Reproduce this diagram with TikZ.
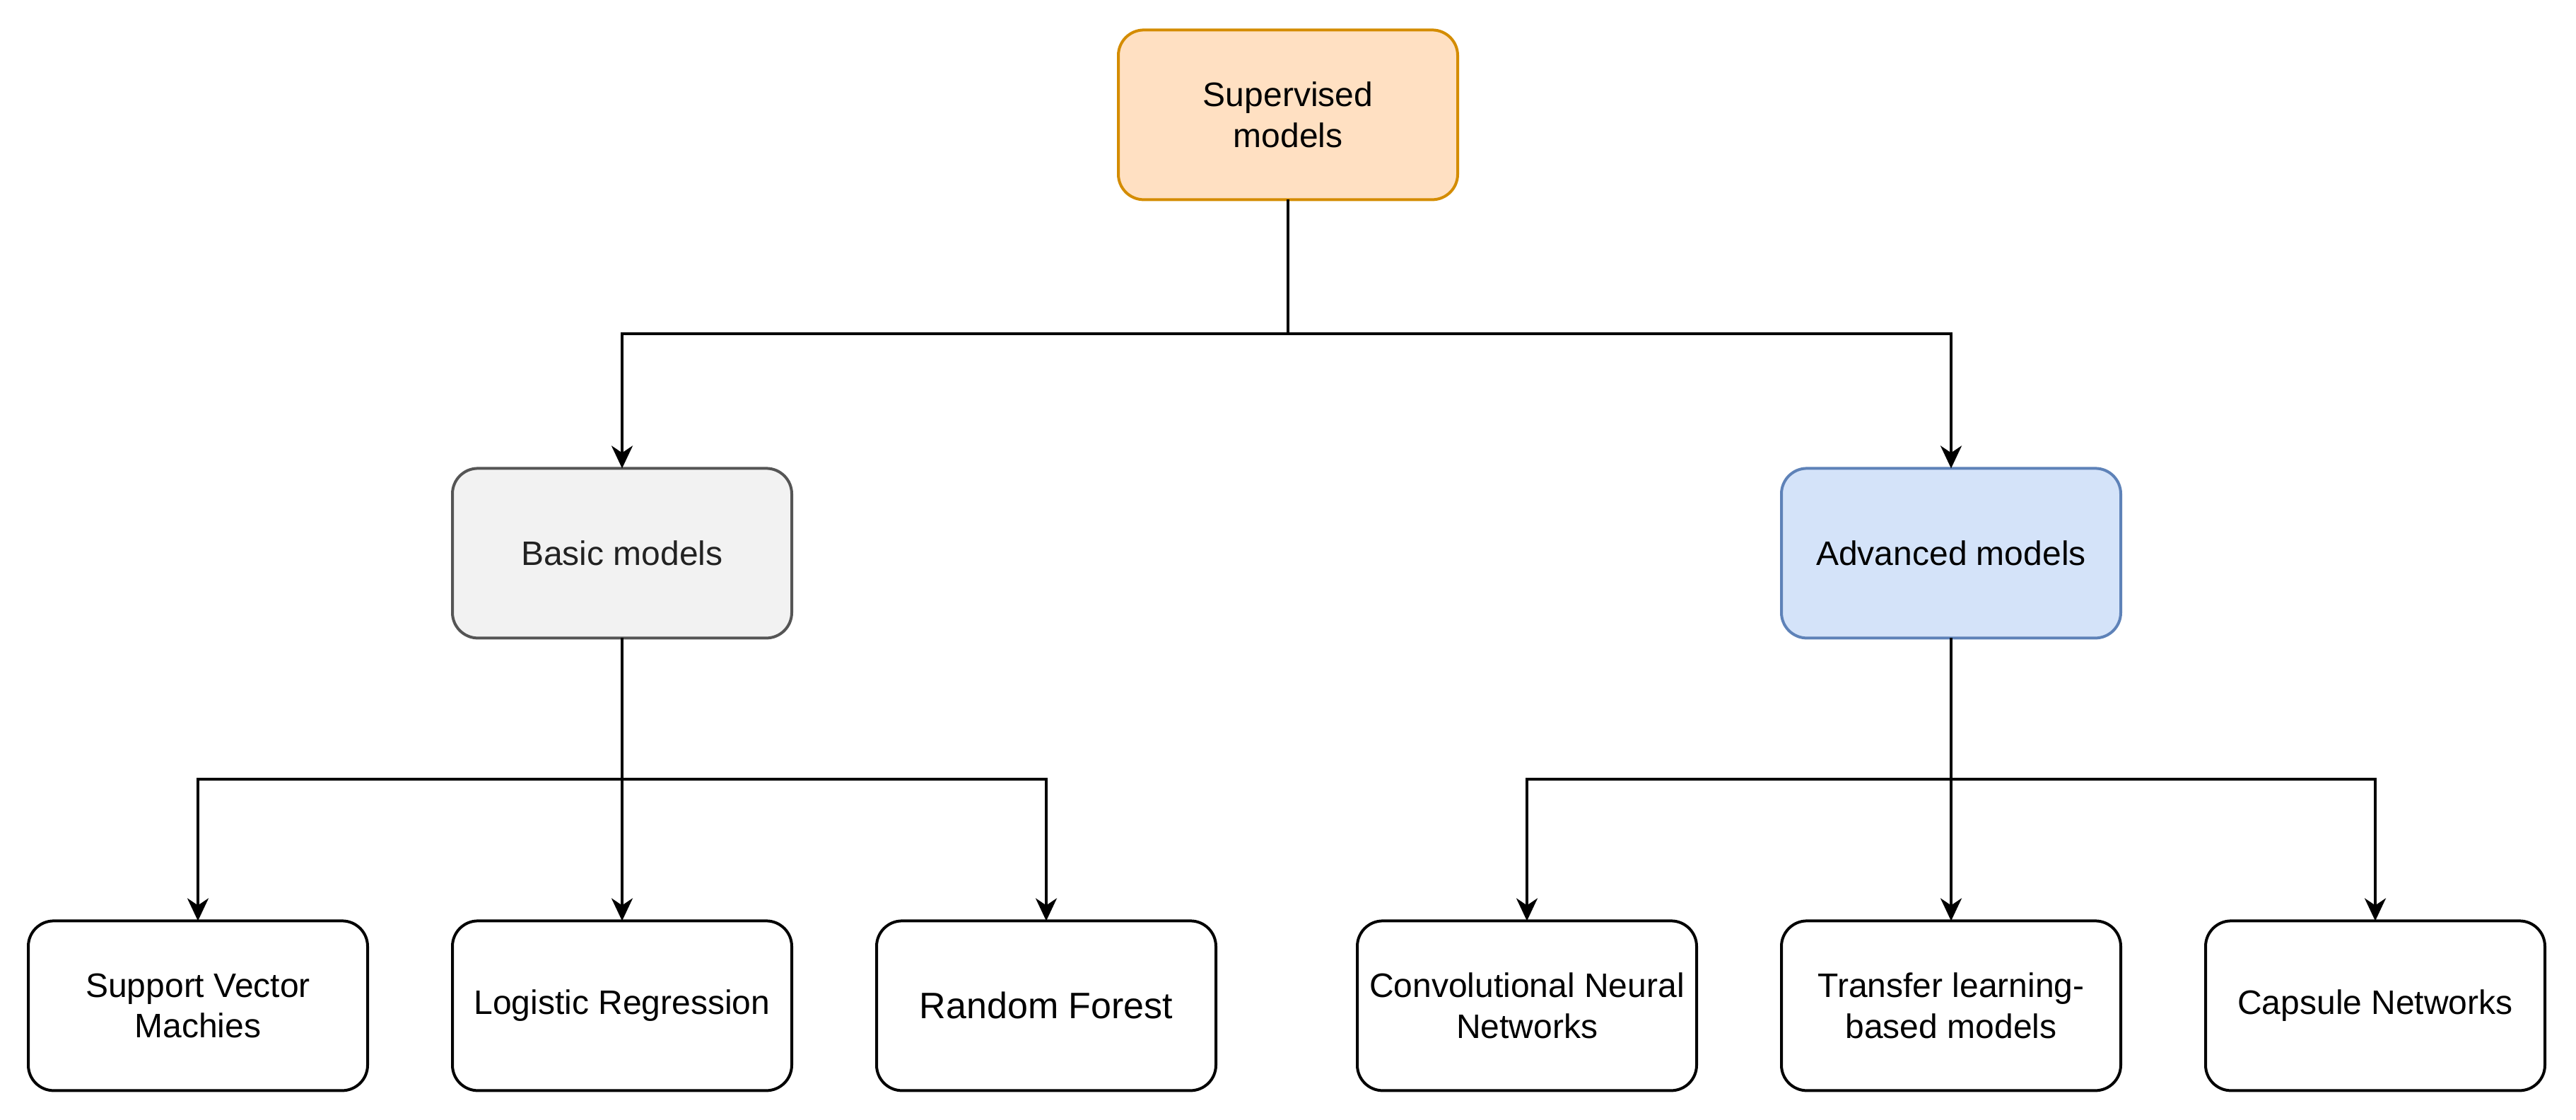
\documentclass[tikz,border=0pt]{standalone}
\usepackage{fontspec}
\setmainfont{Liberation Sans}
\usetikzlibrary{arrows.meta}
\definecolor{orfill}{HTML}{FFE0C2}
\definecolor{ordraw}{HTML}{D48C00}
\definecolor{grfill}{HTML}{F2F2F2}
\definecolor{grdraw}{HTML}{555555}
\definecolor{grtext}{HTML}{222222}
\definecolor{blfill}{HTML}{D4E3F9}
\definecolor{bldraw}{HTML}{5E82B8}
\tikzset{
  box/.style={draw, line width=1pt, rounded corners=9pt, minimum width=120pt, minimum height=60pt,
    align=center, inner sep=2pt, outer sep=0pt, font=\fontsize{12pt}{14.4pt}\selectfont},
  rootbox/.style={box, fill=orfill, draw=ordraw},
  basicbox/.style={box, fill=grfill, draw=grdraw, text=grtext},
  advbox/.style={box, fill=blfill, draw=bldraw},
  leafbox/.style={box, fill=white, draw=black},
  arr/.style={draw=black, line width=1pt, -{Stealth[length=8pt, width=7.5pt, inset=2.5pt]}},
}
\begin{document}
\begin{tikzpicture}[x=1pt, y=-1pt]
\useasboundingbox (0,0) rectangle (911,396);
\node[rootbox] (root) at (455.5,40.6) {Supervised\\models};
\node[basicbox] (basic) at (220,195.6) {Basic models};
\node[advbox] (adv) at (690,195.6) {Advanced models};
\node[leafbox] (svm) at (70,355.6) {Support Vector\\Machies};
\node[leafbox] (lr) at (220,355.6) {Logistic Regression};
\node[leafbox, font=\fontsize{13pt}{15.6pt}\selectfont] (rf) at (370,355.6) {Random Forest};
\node[leafbox] (cnn) at (540,355.6) {Convolutional Neural\\Networks};
\node[leafbox] (tl) at (690,355.6) {Transfer learning-\\based models};
\node[leafbox] (cap) at (840,355.6) {Capsule Networks};
\draw[arr] (root.south) -- ++(0,47.5) -| (basic.north);
\draw[arr] (root.south) -- ++(0,47.5) -| (adv.north);
\draw[arr] (basic.south) -- ++(0,50) -| (svm.north);
\draw[arr] (basic.south) -- (lr.north);
\draw[arr] (basic.south) -- ++(0,50) -| (rf.north);
\draw[arr] (adv.south) -- ++(0,50) -| (cnn.north);
\draw[arr] (adv.south) -- (tl.north);
\draw[arr] (adv.south) -- ++(0,50) -| (cap.north);
\end{tikzpicture}
\end{document}
